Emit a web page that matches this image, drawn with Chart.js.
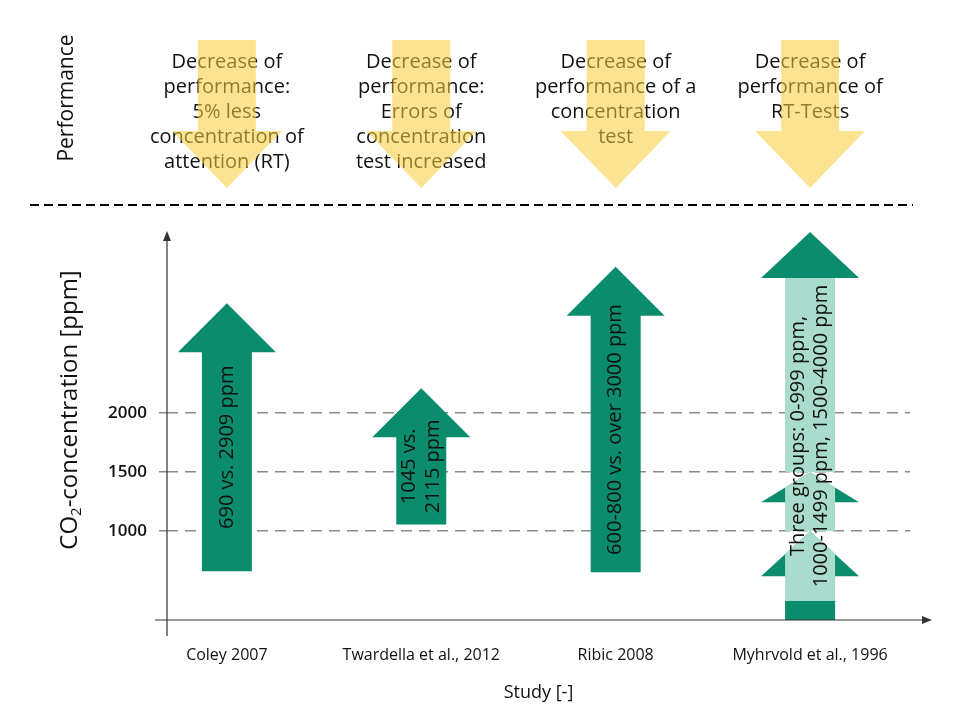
<!DOCTYPE html>
<html>
<head>
<meta charset="utf-8">
<script src="https://cdn.jsdelivr.net/npm/chart.js@4.4.1/dist/chart.umd.min.js"></script>
<style>
  html, body { margin: 0; background: #fff; }
</style>
</head>
<body>
<canvas id="co2Chart" width="960" height="720"></canvas>
<script>
// data
const studies = ['Coley 2007', 'Twardella et al., 2012', 'Ribic 2008', 'Myhrvold et al., 1996'];
const lows = [660, 1055, 650];
const highs = [2930, 2210, 3240];
const groupLows = [0, 1000, 1500];
const groupHighs = [999, 1499, 4000];
const yTicks = [1000, 1500, 2000];
const arrowLabels = [
  ['690 vs. 2909 ppm'],
  ['1045 vs.', '2115 ppm'],
  ['600-800 vs. over 3000 ppm'],
  ['Three groups: 0-999 ppm,', '1000-1499 ppm, 1500-4000 ppm']
];
const effects = [
  ['Decrease of', 'performance:', '5% less', 'concentration of', 'attention (RT)'],
  ['Decrease of', 'performance:', 'Errors of', 'concentration', 'test increased'],
  ['Decrease of', 'performance of a', 'concentration', 'test'],
  ['Decrease of', 'performance of', 'RT-Tests']
];

const GREEN = '#0b8c6c';
const LIGHT = '#a9dccd';
const YELLOW = 'rgba(250,205,60,0.56)';
const FONT = "'Open Sans', 'Noto Sans', sans-serif";

function upArrow(ctx, cx, top, bottom, half, headHalf, headH) {
  const hb = top + headH;
  ctx.beginPath();
  ctx.moveTo(cx, top);
  ctx.lineTo(cx + headHalf, hb);
  ctx.lineTo(cx + half, hb);
  ctx.lineTo(cx + half, bottom);
  ctx.lineTo(cx - half, bottom);
  ctx.lineTo(cx - half, hb);
  ctx.lineTo(cx - headHalf, hb);
  ctx.closePath();
  ctx.fill();
}

function rotatedLines(ctx, lines, cx, cy, size, gap) {
  ctx.save();
  ctx.translate(cx, cy);
  ctx.rotate(-Math.PI / 2);
  ctx.font = size + 'px ' + FONT;
  ctx.fillStyle = '#111';
  ctx.textAlign = 'center';
  ctx.textBaseline = 'middle';
  lines.forEach((t, k) => ctx.fillText(t, 0, (k - (lines.length - 1) / 2) * gap));
  ctx.restore();
}

const arrowPlugin = {
  id: 'arrows',
  afterDatasetsDraw(chart) {
    const {ctx, chartArea} = chart;
    const xs = chart.scales.x;

    // single studies
    ctx.save();
    chart.getDatasetMeta(0).data.forEach((bar, i) => {
      const top = Math.max(Math.min(bar.y, bar.base), chartArea.top);
      const bottom = Math.min(Math.max(bar.y, bar.base), chartArea.bottom);
      ctx.fillStyle = GREEN;
      upArrow(ctx, bar.x, top, bottom, bar.width / 2, 49, 49);
      rotatedLines(ctx, arrowLabels[i], bar.x, (top + bottom) / 2 + 10, 20, 24);
    });

    // Myhrvold: three stacked groups
    const styles = [{headH: 45, foot: 19, cap: false}, {headH: 30, foot: 0, cap: false}, {headH: 46, foot: 0, cap: true}];
    let cx = 0;
    chart.getDatasetMeta(1).data.forEach((bar, k) => {
      const st = styles[k];
      const half = bar.width / 2, headHalf = 49;
      const top = Math.max(Math.min(bar.y, bar.base), chartArea.top);
      const bottom = Math.min(Math.max(bar.y, bar.base), chartArea.bottom);
      const hb = top + st.headH;
      cx = bar.x;
      ctx.fillStyle = GREEN;
      ctx.beginPath();
      ctx.moveTo(cx, top);
      ctx.lineTo(cx + headHalf, hb);
      ctx.lineTo(cx - headHalf, hb);
      ctx.closePath();
      ctx.fill();
      ctx.fillStyle = LIGHT;
      ctx.fillRect(cx - half, hb, 2 * half, bottom - hb);
      if (!st.cap) {
        const edgeY = top + st.headH * half / headHalf;
        ctx.beginPath();
        ctx.moveTo(cx - half, hb);
        ctx.lineTo(cx - half, edgeY);
        ctx.lineTo(cx, top);
        ctx.lineTo(cx + half, edgeY);
        ctx.lineTo(cx + half, hb);
        ctx.closePath();
        ctx.fill();
      }
      if (st.foot) {
        ctx.fillStyle = GREEN;
        ctx.fillRect(cx - half, bottom - st.foot, 2 * half, st.foot);
      }
    });
    rotatedLines(ctx, arrowLabels[3], cx, (chartArea.top + chartArea.bottom) / 2 + 10, 20, 23);
    ctx.restore();

    // axes with arrow tips
    ctx.save();
    ctx.strokeStyle = '#333';
    ctx.fillStyle = '#333';
    ctx.lineWidth = 1.2;
    const L = chartArea.left, B = chartArea.bottom;
    ctx.beginPath();
    ctx.moveTo(L, B + 16);
    ctx.lineTo(L, chartArea.top + 6);
    ctx.moveTo(L - 12, B);
    ctx.lineTo(chartArea.right + 16, B);
    ctx.stroke();
    ctx.beginPath();
    ctx.moveTo(L, chartArea.top - 1);
    ctx.lineTo(L + 4, chartArea.top + 9);
    ctx.lineTo(L - 4, chartArea.top + 9);
    ctx.closePath();
    ctx.fill();
    ctx.beginPath();
    ctx.moveTo(chartArea.right + 22, B);
    ctx.lineTo(chartArea.right + 12, B - 4);
    ctx.lineTo(chartArea.right + 12, B + 4);
    ctx.closePath();
    ctx.fill();
    ctx.restore();

    // y title with subscript
    ctx.save();
    ctx.translate(70, 410);
    ctx.rotate(-Math.PI / 2);
    ctx.fillStyle = '#111';
    ctx.textBaseline = 'middle';
    ctx.textAlign = 'left';
    const big = '24px ' + FONT, small = '15px ' + FONT;
    ctx.font = big;
    const w1 = ctx.measureText('CO').width;
    const w3 = ctx.measureText('-concentration [ppm]').width;
    ctx.font = small;
    const w2 = ctx.measureText('2').width;
    const px = -(w1 + w2 + w3) / 2;
    ctx.font = big;
    ctx.fillText('CO', px, 0);
    ctx.font = small;
    ctx.fillText('2', px + w1, 7);
    ctx.font = big;
    ctx.fillText('-concentration [ppm]', px + w1 + w2, 0);
    ctx.restore();

    // performance band
    ctx.save();
    ctx.translate(67, 98);
    ctx.rotate(-Math.PI / 2);
    ctx.font = '21px ' + FONT;
    ctx.fillStyle = '#111';
    ctx.textAlign = 'center';
    ctx.textBaseline = 'middle';
    ctx.fillText('Performance', 0, 0);
    ctx.restore();

    ctx.save();
    ctx.font = '20px ' + FONT;
    ctx.textAlign = 'center';
    ctx.textBaseline = 'middle';
    effects.forEach((lines, i) => {
      const ex = xs.getPixelForValue(i);
      ctx.fillStyle = '#111';
      lines.forEach((t, k) => ctx.fillText(t, ex, 62 + k * 25));
      ctx.fillStyle = YELLOW;
      ctx.beginPath();
      ctx.moveTo(ex - 29, 40);
      ctx.lineTo(ex + 29, 40);
      ctx.lineTo(ex + 29, 131);
      ctx.lineTo(ex + 55, 131);
      ctx.lineTo(ex, 188);
      ctx.lineTo(ex - 55, 131);
      ctx.lineTo(ex - 29, 131);
      ctx.closePath();
      ctx.fill();
    });
    ctx.strokeStyle = '#000';
    ctx.lineWidth = 2;
    ctx.setLineDash([9, 5]);
    ctx.beginPath();
    ctx.moveTo(30, 205);
    ctx.lineTo(913, 205);
    ctx.stroke();
    ctx.restore();
  }
};

new Chart(document.getElementById('co2Chart'), {
  type: 'bar',
  data: {
    datasets: [
      {
        label: 'Studies',
        data: lows.map((v, i) => ({x: i, y: [v, highs[i]]})),
        backgroundColor: 'rgba(0,0,0,0)',
        barThickness: 50,
        grouped: false
      },
      {
        label: 'Myhrvold groups',
        data: groupLows.map((v, k) => ({x: 3, y: [v, groupHighs[k]]})),
        backgroundColor: 'rgba(0,0,0,0)',
        barThickness: 50,
        grouped: false
      }
    ]
  },
  options: {
    responsive: false,
    animation: false,
    layout: {padding: {top: 232, right: 50, left: 0, bottom: 0}},
    plugins: {legend: {display: false}, tooltip: {enabled: false}},
    scales: {
      x: {
        type: 'linear',
        offset: false,
        min: -0.308,
        max: 3.514,
        afterBuildTicks: (s) => { s.ticks = studies.map((n, i) => ({value: i})); },
        afterFit: (s) => { s.height = 100; },
        grid: {display: false, drawTicks: false, offset: false},
        border: {display: false},
        ticks: {
          padding: 26,
          color: '#111',
          font: {family: FONT, size: 16},
          callback: (v) => studies[v]
        },
        title: {
          display: true,
          text: 'Study [-]',
          color: '#111',
          font: {family: FONT, size: 18},
          padding: {top: 0, bottom: 16}
        }
      },
      y: {
        min: 246,
        max: 3534,
        afterBuildTicks: (s) => { s.ticks = yTicks.map(v => ({value: v})); },
        afterFit: (s) => { s.width = 167; },
        grid: {
          color: '#8a8a8a',
          lineWidth: 1.5,
          tickLength: 8,
          tickColor: '#8a8a8a',
          tickBorderDash: [11, 7]
        },
        border: {display: false, dash: [11, 7]},
        ticks: {
          padding: 12,
          color: '#111',
          font: {family: FONT, size: 17, weight: '600'},
          callback: (v) => String(v)
        }
      }
    }
  },
  plugins: [arrowPlugin]
});
</script>
</body>
</html>
